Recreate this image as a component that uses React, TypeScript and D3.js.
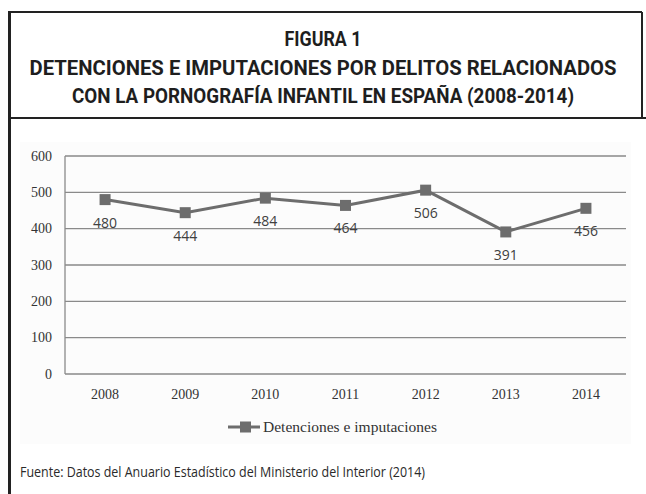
import React from 'react';
import * as d3 from 'd3';

const years = ['2008', '2009', '2010', '2011', '2012', '2013', '2014'];
const detenciones = [480, 444, 484, 464, 506, 391, 456];
const yTicks = [0, 100, 200, 300, 400, 500, 600];

const titleLines = [
  'FIGURA 1',
  'DETENCIONES E IMPUTACIONES POR DELITOS RELACIONADOS',
  'CON LA PORNOGRAFÍA INFANTIL EN ESPAÑA (2008-2014)',
];
const seriesName = 'Detenciones e imputaciones';
const sourceNote = 'Fuente: Datos del Anuario Estadístico del Ministerio del Interior (2014)';

const W = 646;
const H = 494;

const App: React.FC = () => {
  // plot area in page pixels
  const plot = { left: 65, right: 626, top: 156, bottom: 374 };

  const x = d3.scaleBand<string>()
    .domain(years)
    .range([plot.left, plot.right]);

  const y = d3.scaleLinear()
    .domain([0, 600])
    .range([plot.bottom, plot.top]);

  const cx = (d: string) => (x(d) || 0) + x.bandwidth() / 2;

  const line = d3.line<number>()
    .x((_, i) => cx(years[i]))
    .y(d => y(d));

  const lineColor = '#6d6d6d';
  const titleWidths = [77, 587, 502];
  const titleY = [46, 75, 103];
  const serif = "'Liberation Serif', 'Times New Roman', serif";
  const sans = "'Open Sans', 'Liberation Sans', sans-serif";

  return (
    <svg
      width={W}
      height={H}
      style={{ position: 'absolute', left: 0, top: 0, background: '#fff' }}
    >
      {/* frame */}
      <line x1={9} x2={642} y1={12} y2={12} stroke="#222" strokeWidth={2} />
      <line x1={642} x2={642} y1={12} y2={118} stroke="#222" strokeWidth={2} />
      <line x1={9} x2={W} y1={118} y2={118} stroke="#222" strokeWidth={2} />
      <line x1={9.5} x2={9.5} y1={11} y2={H} stroke="#222" strokeWidth={3} />

      {/* title */}
      {titleLines.map((t, i) => (
        <text
          key={i}
          x={323}
          y={titleY[i]}
          textAnchor="middle"
          fontFamily="Roboto, 'Liberation Sans', sans-serif"
          fontWeight="bold"
          fontSize={i === 0 ? 20 : 21}
          fill="#1e1e1e"
          textLength={titleWidths[i]}
          lengthAdjust="spacingAndGlyphs"
        >
          {t}
        </text>
      ))}

      {/* chart background */}
      <rect x={20} y={142} width={611} height={302} fill="#fcfcfc" />

      {/* gridlines */}
      {yTicks.map(t => (
        <g key={t}>
          <line
            x1={plot.left}
            x2={plot.right}
            y1={y(t)}
            y2={y(t)}
            stroke="#8a8a8a"
            strokeWidth={1.3}
          />
          <text
            x={52}
            y={y(t) + 4.8}
            textAnchor="end"
            fontFamily={serif}
            fontSize={14}
            fill="#333"
          >
            {t}
          </text>
        </g>
      ))}
      <line x1={plot.left} x2={plot.left} y1={plot.top} y2={plot.bottom} stroke="#8a8a8a" strokeWidth={1.3} />

      {/* x labels */}
      {years.map(d => (
        <text
          key={d}
          x={cx(d)}
          y={399}
          textAnchor="middle"
          fontFamily={serif}
          fontSize={14}
          fill="#333"
        >
          {d}
        </text>
      ))}

      {/* series */}
      <path d={line(detenciones) || ''} fill="none" stroke={lineColor} strokeWidth={3} />
      {detenciones.map((v, i) => (
        <rect
          key={i}
          x={cx(years[i]) - 5.5}
          y={y(v) - 5.5}
          width={11}
          height={11}
          fill={lineColor}
        />
      ))}
      {detenciones.map((v, i) => (
        <text
          key={'l' + i}
          x={cx(years[i])}
          y={y(v) + 28}
          textAnchor="middle"
          fontFamily={sans}
          fontSize={14}
          fill="#404040"
        >
          {v}
        </text>
      ))}

      {/* legend */}
      <line x1={228} x2={260} y1={427} y2={427} stroke={lineColor} strokeWidth={3} />
      <rect x={240} y={421.5} width={11} height={11} fill={lineColor} />
      <text
        x={263}
        y={431.5}
        fontFamily={serif}
        fontSize={14}
        fill="#333"
        textLength={174}
        lengthAdjust="spacingAndGlyphs"
      >
        {seriesName}
      </text>

      {/* source */}
      <text
        x={20}
        y={477}
        fontFamily={sans}
        fontSize={15}
        fill="#2a2a2a"
        textLength={405}
        lengthAdjust="spacingAndGlyphs"
      >
        {sourceNote}
      </text>
    </svg>
  );
};

export default App;
